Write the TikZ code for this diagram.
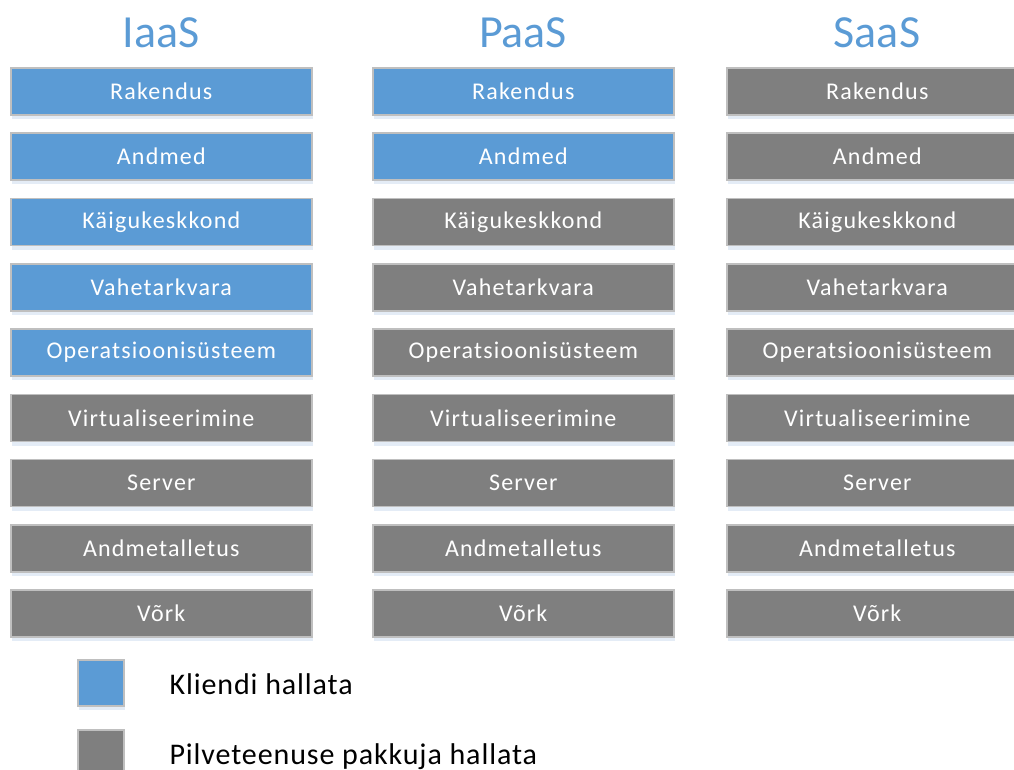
\documentclass[tikz,border=0pt]{standalone}
\usepackage{fontspec}
\setmainfont{Carlito}
\newfontfamily\boxfont[LetterSpace=5]{Carlito}
\newfontfamily\legfont[LetterSpace=3]{Carlito}
\definecolor{cblue}{HTML}{5B9BD5}
\definecolor{cgray}{HTML}{7F7F7F}
\definecolor{cedge}{HTML}{BFBFBF}
\definecolor{cshadow}{HTML}{E4ECF6}
\tikzset{
  layer/.style={draw=cedge, line width=1.6pt, minimum width=301pt, minimum height=47pt,
    inner sep=0pt, text=white, font=\boxfont\fontsize{24}{28}\selectfont, anchor=north west},
  cust/.style={layer, fill=cblue},
  prov/.style={layer, fill=cgray},
  title/.style={text=cblue, font=\fontsize{46}{50}\selectfont},
  legsq/.style={draw=cedge, line width=1.6pt, minimum width=46pt, minimum height=46pt, inner sep=0pt, anchor=north west},
  legtxt/.style={anchor=base west, font=\legfont\fontsize{30}{34}\selectfont, text=black},
}
\begin{document}
\begin{tikzpicture}[x=1pt,y=-1pt]
\useasboundingbox (0,0) rectangle (1014,770);
\begin{scope}
\clip (0,0) rectangle (1014,770);
% titles
\node[title] (tI) at (161,33) {IaaS};
\node[title] (tP) at (523,33) {PaaS};
\node[title] (tS) at (877,33) {SaaS};
% shadows
\foreach \i in {0,...,8}{
  \foreach \x in {10,372,726}{
    \fill[cshadow] (\x+2,67+65.3*\i+47) rectangle ++(301,5);
  }
}
% IaaS
\node[cust] (i1) at (10,67.0) {Rakendus};
\node[cust] (i2) at (10,132.3) {Andmed};
\node[cust] (i3) at (10,197.6) {Käigukeskkond};
\node[cust] (i4) at (10,262.9) {Vahetarkvara};
\node[cust] (i5) at (10,328.2) {Operatsioonisüsteem};
\node[prov] (i6) at (10,393.5) {Virtualiseerimine};
\node[prov] (i7) at (10,458.8) {Server};
\node[prov] (i8) at (10,524.1) {Andmetalletus};
\node[prov] (i9) at (10,589.4) {Võrk};
% PaaS
\node[cust] (p1) at (372,67.0) {Rakendus};
\node[cust] (p2) at (372,132.3) {Andmed};
\node[prov] (p3) at (372,197.6) {Käigukeskkond};
\node[prov] (p4) at (372,262.9) {Vahetarkvara};
\node[prov] (p5) at (372,328.2) {Operatsioonisüsteem};
\node[prov] (p6) at (372,393.5) {Virtualiseerimine};
\node[prov] (p7) at (372,458.8) {Server};
\node[prov] (p8) at (372,524.1) {Andmetalletus};
\node[prov] (p9) at (372,589.4) {Võrk};
% SaaS
\node[prov] (s1) at (726,67.0) {Rakendus};
\node[prov] (s2) at (726,132.3) {Andmed};
\node[prov] (s3) at (726,197.6) {Käigukeskkond};
\node[prov] (s4) at (726,262.9) {Vahetarkvara};
\node[prov] (s5) at (726,328.2) {Operatsioonisüsteem};
\node[prov] (s6) at (726,393.5) {Virtualiseerimine};
\node[prov] (s7) at (726,458.8) {Server};
\node[prov] (s8) at (726,524.1) {Andmetalletus};
\node[prov] (s9) at (726,589.4) {Võrk};
% legend
\fill[cshadow] (79,706) rectangle ++(46,4);
\node[legsq, fill=cblue] (lb) at (77,659) {};
\node[legsq, fill=cgray] (lg) at (77,729) {};
\node[legtxt] (lbt) at (166,694) {Kliendi hallata};
\node[legtxt] (lgt) at (166,764) {Pilveteenuse pakkuja hallata};
\end{scope}
\end{tikzpicture}
\end{document}
